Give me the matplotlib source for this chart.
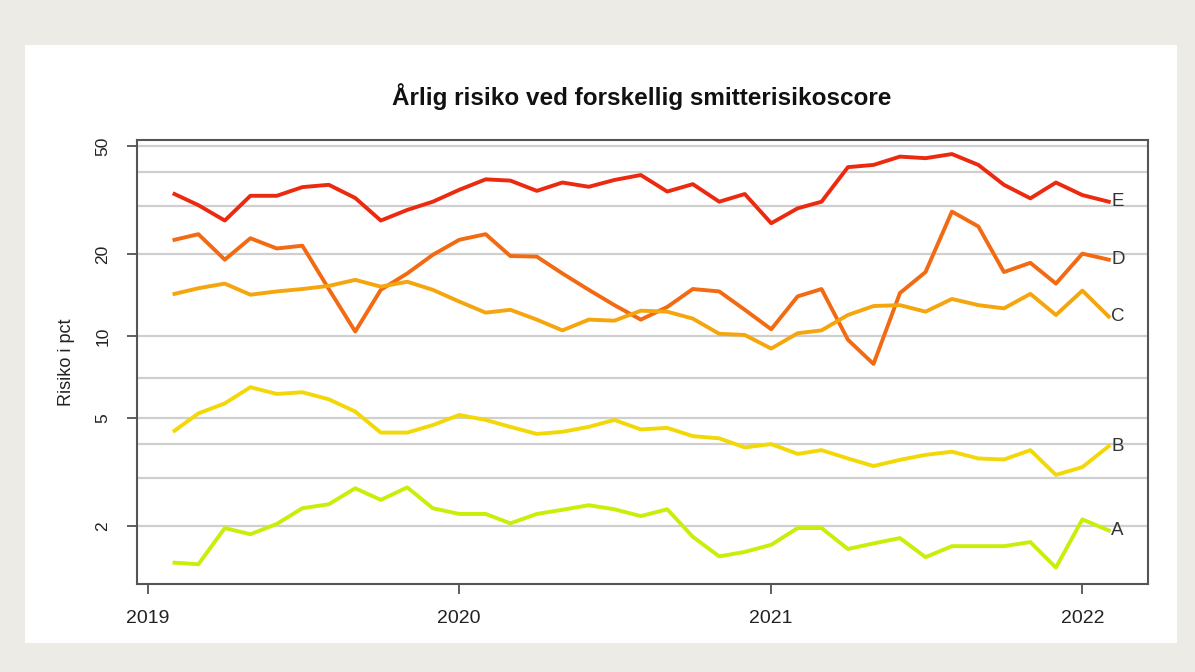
import matplotlib
matplotlib.use("Agg")
import matplotlib.pyplot as plt
import numpy as np
import pandas as pd

plt.rcParams['font.family'] = ['Liberation Sans', 'DejaVu Sans']

title = "Årlig risiko ved forskellig smitterisikoscore"
ylabel = "Risiko i pct"
dates = pd.date_range("2019-02-01", "2022-02-01", freq="MS")

series_names = ["E", "D", "C", "B", "A"]
E = [33.3, 30.3, 26.6, 32.8, 32.8, 35.3, 36.0, 32.2, 26.6, 29.1, 31.2, 34.5,
     37.7, 37.3, 34.2, 36.7, 35.4, 37.5, 39.1, 34.0, 36.2, 31.2, 33.3, 26.0,
     29.5, 31.2, 41.8, 42.6, 45.7, 45.1, 46.7, 42.6, 36.0, 32.1, 36.7, 33.0, 31.2]
D = [22.6, 23.7, 19.1, 22.9, 21.0, 21.5, 14.9, 10.4, 14.8, 17.0, 19.9, 22.6,
     23.7, 19.7, 19.6, 17.0, 14.8, 13.0, 11.5, 12.8, 14.9, 14.6, 12.5, 10.6,
     14.0, 14.9, 9.7, 7.9, 14.4, 17.2, 28.7, 25.3, 17.2, 18.6, 15.6, 20.1, 19.1]
C = [14.3, 15.0, 15.6, 14.2, 14.6, 14.9, 15.3, 16.1, 15.2, 15.85, 14.8, 13.4,
     12.2, 12.5, 11.5, 10.5, 11.5, 11.4, 12.4, 12.3, 11.6, 10.2, 10.1, 9.0,
     10.25, 10.5, 11.96, 12.9, 13.0, 12.3, 13.7, 13.0, 12.65, 14.3, 11.96, 14.7, 11.8]
B = [4.49, 5.2, 5.66, 6.49, 6.13, 6.22, 5.86, 5.28, 4.42, 4.42, 4.71, 5.13,
     4.92, 4.64, 4.37, 4.45, 4.64, 4.92, 4.54, 4.6, 4.29, 4.21, 3.90, 4.01,
     3.69, 3.81, 3.55, 3.33, 3.51, 3.66, 3.76, 3.55, 3.52, 3.81, 3.09, 3.30, 3.94]
A = [1.47, 1.45, 1.97, 1.87, 2.04, 2.33, 2.41, 2.76, 2.50, 2.78, 2.33, 2.22,
     2.22, 2.05, 2.22, 2.30, 2.39, 2.31, 2.18, 2.31, 1.83, 1.55, 1.61, 1.71,
     1.97, 1.97, 1.65, 1.73, 1.81, 1.54, 1.69, 1.69, 1.69, 1.75, 1.41, 2.12, 1.93]
colors = ["#ec2a10", "#f26a12", "#f5a50e", "#f3d808", "#c8ef0a"]

ytick_vals = [2, 5, 10, 20, 50]
grid_vals = [2, 3, 4, 5, 7, 10, 20, 30, 40, 50]
xtick_years = ["2019", "2020", "2021", "2022"]

W, H = 1195, 672
fig = plt.figure(figsize=(W / 100, H / 100), dpi=100, facecolor="#ecebe5")

# white panel behind the chart
bg = fig.add_axes([25 / W, 1 - 643 / H, (1177 - 25) / W, (643 - 45) / H], zorder=0)
bg.set_axis_off()
bg.add_patch(plt.Rectangle((0, 0), 1, 1, transform=bg.transAxes, facecolor="white",
                           edgecolor="none"))

ax = fig.add_axes([137 / W, 1 - 584 / H, (1148 - 137) / W, (584 - 140) / H], zorder=1)
ax.set_facecolor("white")
ax.set_yscale("log")
ax.set_ylim(1.227, 52.6)
ax.set_xlim(pd.Timestamp("2018-12-19"), pd.Timestamp("2022-03-19"))

for g in grid_vals:
    ax.axhline(g, color="#cfcfcf", lw=1.6, zorder=1)

for name, vals, c in zip(series_names, [E, D, C, B, A], colors):
    ax.plot(dates, vals, color=c, lw=2.8, zorder=3, solid_joinstyle="round")
    ax.text(dates[-1] + pd.Timedelta(days=3), vals[-1], name, ha="left", va="center",
            fontsize=13.5, color="#333333", zorder=4)

ax.yaxis.set_major_locator(matplotlib.ticker.FixedLocator(ytick_vals))
ax.yaxis.set_minor_locator(matplotlib.ticker.NullLocator())
ax.set_yticklabels([str(v) for v in ytick_vals], rotation=90, va="center")
ax.set_xticks([pd.Timestamp(f"{y}-01-01") for y in xtick_years])
ax.set_xticklabels(xtick_years)
ax.tick_params(axis="both", direction="out", length=7, width=1.2, color="#444444",
               labelcolor="#222222")
ax.tick_params(axis="y", pad=12, labelsize=12.5)
ax.tick_params(axis="x", pad=12, labelsize=14)
for s in ax.spines.values():
    s.set_color("#555555")
    s.set_linewidth(1.5)

ax.set_ylabel(ylabel, fontsize=13, color="#222222", labelpad=15)
fig.text(642 / W, 1 - 97 / H, title, ha="center", va="center", fontsize=17.5,
         fontweight="bold", color="#111111")

fig.savefig("out.png", dpi=100, facecolor=fig.get_facecolor())
